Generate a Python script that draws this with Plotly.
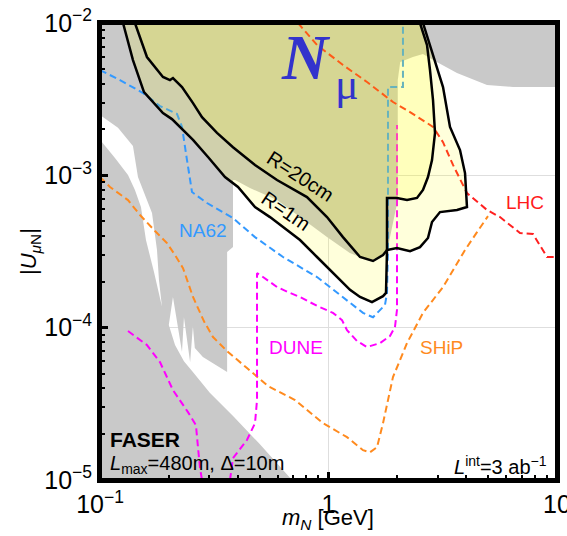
import plotly.graph_objects as go

# ---------------- data (m_N in GeV, |U_muN|) ----------------
# existing constraints (grey)
gray_m = [0.1, 10, 10, 6.42, 4.94, 3.65, 2.87, 2.59, 2.34, 2.06, 2.01, 2.01, 1.82, 1.73, 1.52,
          1.24, 0.985, 0.75, 0.595, 0.453, 0.390, 0.382, 0.382, 0.36, 0.36, 0.282, 0.260, 0.255,
          0.248, 0.233, 0.2285, 0.2086, 0.200, 0.213, 0.233, 0.255, 0.274, 0.303, 0.385, 0.50,
          0.692, 0.1]
gray_u = [1e-2, 1e-2, 3.80e-3, 3.80e-3, 3.92e-3, 4.69e-3, 5.71e-3, 6.26e-3, 5.98e-3, 5.54e-3,
          4.22e-3, 6.88e-4, 3.38e-4, 3.04e-4, 2.74e-4, 3.09e-4, 3.93e-4, 5.32e-4, 6.88e-4, 8.25e-4,
          9.31e-4, 9.31e-4, 3.38e-4, 3.14e-4, 5.11e-5, 6.41e-5, 7.35e-5, 1.02e-4, 5.94e-5, 1.17e-4,
          6.92e-5, 1.59e-4, 1.04e-4, 7.69e-5, 6.03e-5, 5.11e-5, 4.46e-5, 3.72e-5, 2.60e-5, 1.72e-5,
          1e-5, 1e-5]
# unconstrained gap inside the grey region
gap_m = [0.1, 0.1199, 0.1394, 0.1466, 0.1689, 0.1776, 0.1812, 0.1867,
         0.1723, 0.1589, 0.1511, 0.1422, 0.1326, 0.1163, 0.1]
gap_u = [2.49e-3, 2.05e-3, 1.56e-3, 9.75e-4, 5.66e-4, 3.23e-4, 2.05e-4, 1.37e-4,
         2.32e-4, 3.76e-4, 6.19e-4, 8.01e-4, 1.005e-3, 1.30e-3, 1.71e-3]

# FASER reach, R = 1 m
r1m_m = [0.1261, 0.1394, 0.1558, 0.1886, 0.2065, 0.2239, 0.2553, 0.2970, 0.3524, 0.4017,
         0.4768, 0.5546, 0.7505, 0.8907, 1.046, 1.242, 1.374, 1.550, 1.732, 1.785, 1.803,
         1.994, 2.274, 2.514, 2.725, 2.838, 3.076, 3.651, 4.037, 3.958, 3.763, 3.402, 3.171,
         2.984, 2.591, 0.1261]
r1m_u = [1e-2, 5.71e-3, 3.52e-3, 2.56e-3, 2.34e-3, 2.08e-3, 1.71e-3, 1.32e-3, 9.75e-4, 8.38e-4,
         6.19e-4, 5.32e-4, 3.76e-4, 2.91e-4, 2.28e-4, 1.77e-4, 1.59e-4, 1.47e-4, 1.61e-4,
         1.69e-4, 3.23e-4, 3.33e-4, 3.18e-4, 3.38e-4, 3.88e-4, 4.94e-4, 5.74e-4, 5.92e-4,
         6.19e-4, 1.035e-3, 1.466e-3, 2.08e-3, 3.80e-3, 5.14e-3, 1e-2, 1e-2]

# FASER reach, R = 20 cm
r20_m = [0.1422, 0.1605, 0.1886, 0.2024, 0.2086, 0.2285, 0.2553, 0.2795, 0.3251, 0.3820,
         0.4768, 0.5952, 0.805, 0.985, 1.157, 1.374, 1.566, 1.732, 1.803, 1.803, 1.994,
         2.206, 2.439, 2.591, 2.725, 2.838, 2.925, 2.867, 2.781, 2.699, 2.514, 0.1422]
r20_u = [1e-2, 5.98e-3, 4.42e-3, 4.22e-3, 4.35e-3, 3.80e-3, 2.98e-3, 2.41e-3, 1.90e-3, 1.53e-3,
         1.17e-3, 9.31e-4, 7.20e-4, 5.32e-4, 3.93e-4, 2.91e-4, 2.74e-4, 3.00e-4, 3.23e-4,
         7.10e-4, 7.10e-4, 6.88e-4, 7.10e-4, 8.01e-4, 9.75e-4, 1.26e-3, 1.90e-3, 3.12e-3,
         4.91e-3, 7.17e-3, 1e-2, 1e-2]

# other experiments (dashed)
na62_m = [0.1, 0.1223, 0.1542, 0.1830, 0.2173, 0.2285, 0.2403, 0.2527, 0.2940, 0.3820, 0.4768,
          0.6324, 0.8907, 1.157, 1.416, 1.566, 1.767, 1.803, 1.821, 1.821, 2.118, 2.118]
na62_u = [4.91e-3, 4.22e-3, 3.47e-3, 2.85e-3, 2.53e-3, 2.08e-3, 1.26e-3, 7.77e-4, 6.58e-4,
          5.24e-4, 3.93e-4, 2.91e-4, 2.15e-4, 1.59e-4, 1.25e-4, 1.17e-4, 1.41e-4, 1.69e-4,
          3.38e-4, 3.80e-3, 3.80e-3, 1e-2]

ship_m = [0.1, 0.1106, 0.1326, 0.1496, 0.1741, 0.1964, 0.2129, 0.2308, 0.2553, 0.2852, 0.3123,
          0.3595, 0.4397, 0.5434, 0.7136, 0.9461, 1.205, 1.416, 1.519, 1.630, 1.732, 1.915,
          2.206, 2.591, 3.171, 3.507, 3.958, 4.466, 4.989]
ship_u = [9.75e-4, 8.38e-4, 6.88e-4, 5.49e-4, 4.31e-4, 3.59e-4, 3.00e-4, 2.46e-4, 1.59e-4,
          1.10e-4, 8.68e-5, 7.02e-5, 5.43e-5, 4.14e-5, 3.35e-5, 2.36e-5, 1.91e-5, 1.57e-5,
          1.52e-5, 1.64e-5, 2.36e-5, 4.74e-5, 7.92e-5, 1.25e-4, 1.85e-4, 2.39e-4, 3.23e-4,
          4.24e-4, 5.40e-4]

lhc_m = [0.7355, 0.8907, 1.157, 1.474, 1.915, 2.274, 2.867, 3.171, 3.507, 4.037, 4.940, 5.631,
         6.888, 7.853, 9.043, 10]
lhc_u = [1e-2, 7.17e-3, 5.30e-3, 4.10e-3, 3.03e-3, 2.60e-3, 2.08e-3, 1.65e-3, 1.17e-3, 7.65e-4,
         5.92e-4, 5.32e-4, 4.18e-4, 4.12e-4, 2.91e-4, 2.91e-4]

dune1_m = [0.1326, 0.1605, 0.1830, 0.2086, 0.2427, 0.2630, 0.2684, 0.2739, 0.2795]
dune1_u = [9.50e-5, 7.69e-5, 5.94e-5, 3.89e-5, 2.79e-5, 2.29e-5, 1.64e-5, 1.20e-5, 1e-5]

dune2_m = [0.3706, 0.3820, 0.4397, 0.4768, 0.4866, 0.4866, 0.5168, 0.5952, 0.6786, 0.7505,
           0.8907, 1.046, 1.146, 1.205, 1.333, 1.474, 1.680, 1.858, 1.954, 1.994, 1.994]
dune2_u = [1e-5, 1.39e-5, 1.83e-5, 2.36e-5, 3.35e-5, 2.28e-4, 2.15e-4, 1.85e-4, 1.69e-4,
           1.59e-4, 1.39e-4, 1.25e-4, 1.12e-4, 9.64e-5, 8.17e-5, 7.46e-5, 7.92e-5, 8.81e-5,
           1.01e-4, 1.31e-4, 2.14e-3]

x_range = [0.1, 10]
y_range = [1e-5, 1e-2]
x_tickvals = [0.1, 1, 10]
x_ticktext = ["10<sup>\u22121</sup>", "1", "10"]
y_tickvals = [1e-5, 1e-4, 1e-3, 1e-2]
y_ticktext = ["10<sup>\u22125</sup>", "10<sup>\u22124</sup>", "10<sup>\u22123</sup>", "10<sup>\u22122</sup>"]
x_minor = [0.2, 0.3, 0.4, 0.5, 0.6, 0.7, 0.8, 0.9, 2, 3, 4, 5, 6, 7, 8, 9]
y_minor = [k * 10.0 ** e for e in (-5, -4, -3) for k in range(2, 10)]

# ---------------- colours ----------------
GRAY = "#c9c9c9"
YEL = "rgba(255,255,0,0.14)"
C_NA62 = "#3399ff"
C_SHIP = "#ff8a1e"
C_LHC = "#ff2020"
C_DUNE = "#ff00ff"
FONT = "Liberation Sans"
DASH = "7px,4px"

fig = go.Figure()


def poly(x, y, color):
    fig.add_trace(go.Scatter(x=x, y=y, mode="lines", fill="toself", fillcolor=color,
                             line=dict(width=0, color=color), hoverinfo="skip",
                             showlegend=False))


def dashed(x, y, color):
    fig.add_trace(go.Scatter(x=x, y=y, mode="lines", line=dict(color=color, width=2, dash=DASH),
                             hoverinfo="skip", showlegend=False))


poly(gray_m, gray_u, GRAY)
poly(gap_m, gap_u, "white")
dashed(ship_m, ship_u, C_SHIP)
dashed(na62_m, na62_u, C_NA62)
dashed(lhc_m, lhc_u, C_LHC)
dashed(dune1_m, dune1_u, C_DUNE)
dashed(dune2_m, dune2_u, C_DUNE)

for xs, ys in ((r1m_m, r1m_u), (r20_m, r20_u)):
    fig.add_trace(go.Scatter(x=xs, y=ys, mode="lines", fill="toself", fillcolor=YEL,
                             line=dict(color="black", width=2.5), hoverinfo="skip",
                             showlegend=False))

# frame drawn along the axis ranges (inner half is visible inside the plot area)
fig.add_trace(go.Scatter(x=[x_range[0], x_range[1], x_range[1], x_range[0], x_range[0]],
                         y=[y_range[0], y_range[0], y_range[1], y_range[1], y_range[0]],
                         mode="lines", line=dict(color="black", width=4), hoverinfo="skip",
                         showlegend=False))


def px2paper(px, py):
    # positions measured in window pixels; plot area spans x 100..557, y 23..480
    return (px - 100) / 457.0, (480 - py) / 457.0


def label(text, px, py, size, color="black", angle=0, family=FONT, xanchor="center"):
    xp, yp = px2paper(px, py)
    fig.add_annotation(text=text, x=xp, y=yp, xref="paper", yref="paper", showarrow=False,
                       xanchor=xanchor, yanchor="middle", textangle=angle,
                       font=dict(size=size, color=color, family=family))


label("<b><i>N</i></b>", 306, 58, 64, "#3333cc", family="Liberation Serif")
label("\u03bc", 347, 84, 44, "#3333cc", family="Liberation Serif")
label("R=20cm", 300, 176, 20, angle=33)
label("R=1m", 286, 211, 20, angle=34)
label("NA62", 203, 230, 19, C_NA62)
label("DUNE", 296, 348, 19, C_DUNE)
label("SHiP", 441, 348, 19, C_SHIP)
label("LHC", 525, 202, 19, "#ff1a1a")
label("<b>FASER</b>", 108, 439, 21, xanchor="left")
label("<i>L</i><sub>max</sub>=480m, \u0394=10m", 108, 464, 20, xanchor="left")
label("<i>L</i><sup>int</sup>=3 ab<sup>\u22121</sup>", 549, 465, 20, xanchor="right")
label("<i>m</i><sub><i>N</i></sub> [GeV]", 328, 519, 22)
label("|<i>U</i><sub><i>\u03bc</i>N</sub>|", 30, 252, 22, angle=-90)

axis_common = dict(type="log", showline=True, linecolor="black", linewidth=3, mirror=True,
                   ticks="inside", ticklen=8, tickwidth=2.5, tickcolor="black",
                   showgrid=True, gridcolor="#dedede", gridwidth=1, zeroline=False,
                   tickfont=dict(family=FONT, size=25, color="black"),
                   ticklabeloverflow="allow", layer="above traces",
                   tickmode="array", automargin=False)
fig.update_xaxes(**axis_common, range=[-1, 1], tickvals=x_tickvals, ticktext=x_ticktext,
                 minor=dict(tickmode="array", tickvals=x_minor, ticks="inside", ticklen=5,
                            tickwidth=2, tickcolor="black", showgrid=False))
fig.update_yaxes(**axis_common, range=[-5, -2], tickvals=y_tickvals, ticktext=y_ticktext,
                 minor=dict(tickmode="array", tickvals=y_minor, ticks="inside", ticklen=5,
                            tickwidth=2, tickcolor="black", showgrid=False))

fig.update_layout(width=567, height=536, margin=dict(l=100, r=10, t=23, b=56),
                  paper_bgcolor="white", plot_bgcolor="white", showlegend=False,
                  font=dict(family=FONT, color="black"))

# place the figure at the very top-left corner of the page (no default body margin)
fig.write_html("out.html", config={"displayModeBar": False, "staticPlot": True},
               post_script="document.body.style.margin='0';"
                           "document.documentElement.style.overflow='hidden';")
